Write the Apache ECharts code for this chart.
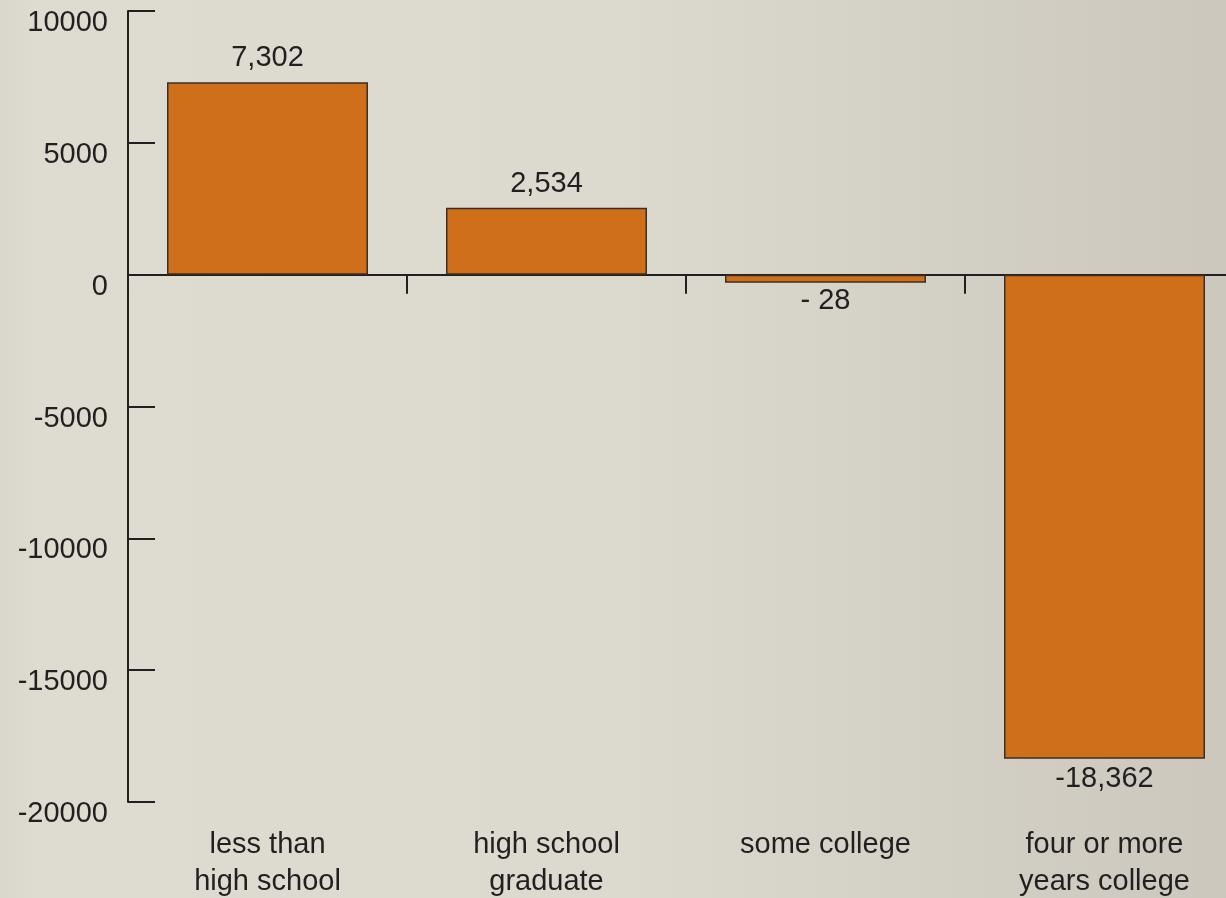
<!DOCTYPE html>
<html>
<head>
<meta charset="utf-8">
<script src="https://cdn.jsdelivr.net/npm/echarts@6/dist/echarts.min.js"></script>
<style>
html,body{margin:0;padding:0;width:1226px;height:898px;overflow:hidden;background:#d0ccc2;}
#chart{width:1244px;height:898px;}
</style>
</head>
<body>
<div id="chart"></div>
<script>
const categories = ['less than\nhigh school', 'high school\ngraduate', 'some college', 'four or more\nyears college'];
const values = [7302, 2534, -28, -18362];
const valueLabels = ['7,302', '2,534', '- 28', '-18,362'];
const yMin = -20000, yMax = 10000, yStep = 5000;

const textColor = '#231f20';
const font = 'Liberation Sans, Arial, Helvetica, sans-serif';

const chart = echarts.init(document.getElementById('chart'), null, {renderer: 'canvas'});
chart.setOption({
  animation: false,
  backgroundColor: {
    type: 'linear', x: 0, y: 0, x2: 1, y2: 0,
    colorStops: [
      {offset: 0, color: '#d9d6cc'},
      {offset: 0.03, color: '#dedbd1'},
      {offset: 0.5, color: '#dcd9cf'},
      {offset: 1, color: '#cbc7bd'}
    ]
  },
  grid: {left: 128, top: 11, right: 0, bottom: 96, containLabel: false, outerBoundsMode: 'none'},
  xAxis: [
    {
      type: 'category', data: categories,
      axisLine: {show: true, onZero: true, lineStyle: {color: textColor, width: 2}},
      axisTick: {show: true, inside: false, length: 19, alignWithLabel: false, lineStyle: {color: textColor, width: 2}},
      axisLabel: {show: false},
      splitLine: {show: false}
    },
    {
      type: 'category', data: categories, position: 'bottom',
      axisLine: {show: false, onZero: false},
      axisTick: {show: false},
      axisLabel: {show: true, margin: 24, fontSize: 29, lineHeight: 37, color: textColor, fontFamily: font, interval: 0},
      splitLine: {show: false}
    }
  ],
  yAxis: {
    type: 'value', min: yMin, max: yMax, interval: yStep,
    axisLine: {show: true, lineStyle: {color: textColor, width: 2}},
    axisTick: {show: true, inside: true, length: 27, lineStyle: {color: textColor, width: 2}},
    axisLabel: {
      show: true, margin: 20, fontSize: 29, lineHeight: 24, verticalAlign: 'top',
      color: textColor, fontFamily: font,
      formatter: v => String(v)
    },
    splitLine: {show: false}
  },
  series: [{
    type: 'bar',
    xAxisIndex: 0,
    barWidth: 201,
    barMinHeight: 8,
    data: values.map((v, i) => ({
      value: v,
      label: {position: v >= 0 ? 'top' : 'bottom', distance: v >= 0 ? 10 : (Math.abs(v) < 100 ? 4 : 6)}
    })),
    itemStyle: {color: '#d06f19', borderColor: '#3b2f27', borderWidth: 1.5},
    label: {
      show: true, fontSize: 29, lineHeight: 28, color: textColor, fontFamily: font,
      formatter: p => valueLabels[p.dataIndex]
    }
  }]
});
</script>
</body>
</html>
